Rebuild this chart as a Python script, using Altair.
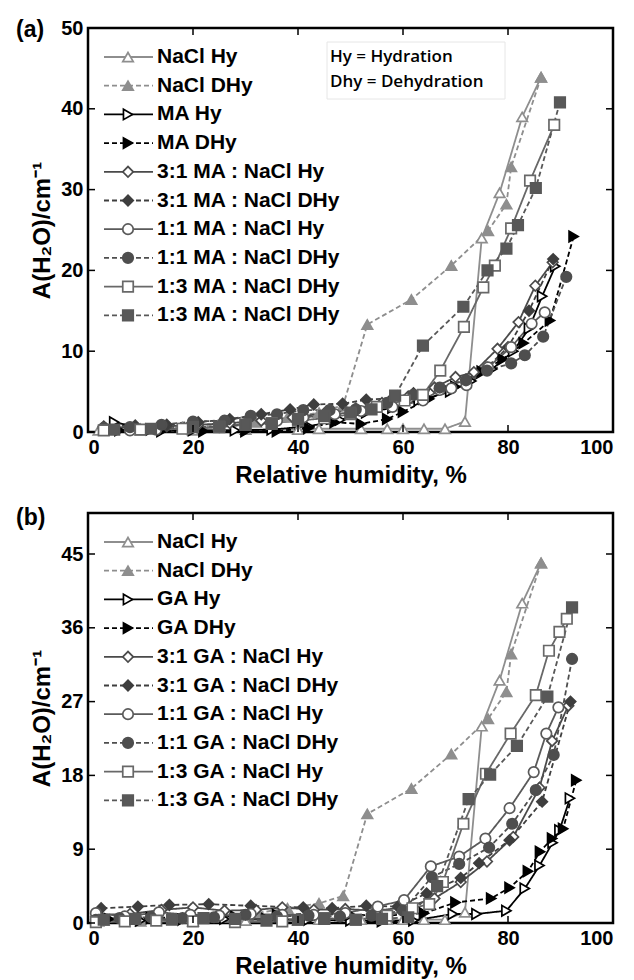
import altair as alt
import pandas as pd

FONT = "Liberation Sans"

# ---------------- tick values ----------------
RH_TICKS = [0, 20, 40, 60, 80, 100]
A_TICKS_A = [0, 10, 20, 30, 40, 50]
A_TICKS_B = [0, 9, 18, 27, 36, 45]

# ---------------- NaCl (same in both panels) ----------------
nacl_hy_rh = [2, 10, 20, 30, 40, 44, 52, 57, 60, 64, 68, 71.8, 75, 78.4, 82.7, 86.3]
nacl_hy_a = [0.2, 0.2, 0.2, 0.3, 0.3, 0.4, 0.4, 0.4, 0.4, 0.4, 0.4, 1.3, 24.0, 29.6, 39.0, 43.9]
nacl_dhy_rh = [86.3, 80.6, 79.7, 76.2, 69.2, 61.6, 53.2, 48.6, 44, 38, 32, 25, 18, 10, 3]
nacl_dhy_a = [43.9, 32.8, 28.2, 24.9, 20.6, 16.4, 13.3, 3.3, 2.4, 1.8, 1.2, 0.8, 0.6, 0.4, 0.3]

# ---------------- panel (a): MA ----------------
ma_hy_rh = [5, 12, 20, 28, 35, 42, 48, 53, 58, 63, 69, 73, 77, 81, 84, 86.5, 89]
ma_hy_a = [1.2, 0.3, 0.2, 0.2, 0.3, 0.7, 1.5, 2.4, 3.0, 3.9, 5.0, 6.3, 7.8, 10.0, 12.8, 16.8, 20.5]
ma_dhy_rh = [92.5, 88, 83, 79, 75, 70, 65, 60, 57, 52, 47, 42, 36, 30, 22, 14, 6]
ma_dhy_a = [24.2, 13.8, 11.0, 9.0, 7.5, 5.6, 4.1, 2.5, 1.6, 1.0, 1.2, 0.5, 0.1, 0.1, 0.1, 0.1, 0.2]
ma31_hy_rh = [3, 9, 15, 21, 27, 33, 39, 45, 51, 56, 61, 66, 70, 73.5, 78, 82, 85.2, 88.5]
ma31_hy_a = [0.5, 0.6, 0.7, 0.9, 1.1, 1.4, 1.8, 2.3, 2.9, 3.6, 4.4, 5.5, 6.8, 7.4, 10.3, 13.6, 18.1, 21.0]
ma31_dhy_rh = [88.6, 84, 80, 76, 72, 67, 62, 58, 53, 48.5, 43, 38.5, 33, 27, 21, 15, 9, 3]
ma31_dhy_a = [21.4, 15.0, 10.5, 8.0, 6.5, 5.4, 4.8, 4.2, 4.0, 3.5, 3.4, 2.8, 2.2, 1.6, 1.2, 0.9, 0.8, 0.7]
ma11_hy_rh = [3, 8, 13, 19, 25, 30, 36, 41, 47, 52, 58, 63.8, 67, 69.2, 72.1, 76.2, 80.6, 84.5, 87]
ma11_hy_a = [0.3, 0.2, 0.3, 0.4, 0.6, 1.0, 1.4, 1.8, 2.2, 2.6, 3.1, 3.9, 5.2, 5.4, 5.8, 8.0, 10.5, 13.4, 14.8]
ma11_dhy_rh = [91.1, 86.7, 83.2, 80.6, 76, 72, 67, 62, 57, 51, 46, 41, 36, 31, 26, 20, 14, 8, 3]
ma11_dhy_a = [19.2, 11.8, 9.5, 8.5, 7.6, 6.4, 5.5, 4.6, 3.6, 2.8, 2.7, 2.7, 2.2, 2.0, 1.4, 1.3, 0.9, 0.6, 0.5]
ma13_hy_rh = [3, 10, 18, 25, 30, 35, 40, 45, 50, 55, 60.3, 63.8, 67.1, 71.6, 75.3, 77.5, 80.6, 84.2, 88.8]
ma13_hy_a = [0.2, 0.3, 0.4, 0.6, 0.9, 1.1, 1.4, 1.7, 2.2, 3.1, 3.9, 4.6, 7.6, 13.0, 17.9, 20.6, 25.2, 31.1, 38.0]
ma13_dhy_rh = [89.9, 85.3, 81.9, 79.7, 76.1, 71.5, 63.8, 58.5, 54, 50, 45, 40, 35, 30, 25, 20, 12, 5]
ma13_dhy_a = [40.8, 30.2, 25.6, 22.7, 20.0, 15.5, 10.7, 4.5, 2.8, 2.4, 2.0, 1.6, 1.0, 0.9, 0.7, 0.6, 0.4, 0.3]

# ---------------- panel (b): GA ----------------
ga_hy_rh = [2, 10, 18, 26, 34, 42, 50, 56, 62, 69.5, 74, 79.7, 83.2, 86, 88.5, 89.8, 91.8]
ga_hy_a = [0.2, 0.3, 0.4, 0.5, 0.5, 0.4, 0.3, 0.2, 0.3, 1.1, 1.1, 1.5, 4.2, 7.0, 9.8, 11.3, 15.2]
ga_dhy_rh = [93, 90.5, 88.4, 86.1, 83.8, 80.3, 76.8, 70, 64, 57, 50, 43, 36, 28, 20, 12, 4]
ga_dhy_a = [17.4, 11.5, 10.3, 8.7, 6.3, 4.3, 3.0, 2.5, 1.2, 0.9, 1.0, 1.1, 1.0, 0.8, 0.8, 0.6, 0.5]
ga31_hy_rh = [2, 8, 14, 20, 26, 32, 37, 43, 49, 55, 61, 66, 71, 76, 81, 86, 88.4, 91.5]
ga31_hy_a = [1.0, 1.1, 1.6, 1.9, 1.5, 1.6, 1.9, 1.6, 1.7, 1.5, 2.0, 3.0, 5.0, 7.5, 10.5, 16.5, 22.2, 26.5]
ga31_dhy_rh = [91.9, 86.5, 80.3, 74.5, 71, 64.5, 59, 53, 46.5, 41, 31, 23, 15.5, 9.5, 2.5]
ga31_dhy_a = [27.0, 14.8, 10.1, 7.3, 5.5, 3.6, 2.0, 2.1, 1.8, 1.9, 2.1, 2.3, 2.2, 2.0, 1.8]
ga11_hy_rh = [1.5, 7, 13.5, 19.5, 25, 31, 37, 43, 49, 55.2, 60.2, 65.3, 70.7, 75.7, 80.3, 84.9, 87.3, 89.6]
ga11_hy_a = [1.2, 0.8, 1.3, 1.0, 0.9, 1.1, 1.0, 1.0, 1.2, 2.0, 2.8, 6.9, 8.1, 10.3, 14.0, 18.4, 23.1, 26.3]
ga11_dhy_rh = [92.2, 88.7, 85.3, 80.8, 76.4, 70.7, 65.5, 60, 54, 48, 42, 36, 30, 24, 18, 12, 6, 1.5]
ga11_dhy_a = [32.2, 20.5, 16.2, 12.1, 9.2, 7.2, 5.6, 1.5, 0.9, 0.8, 0.9, 0.8, 1.0, 0.7, 0.6, 0.7, 0.6, 0.4]
ga13_hy_rh = [1.5, 7, 13, 20, 28, 37, 45, 51, 57, 61.8, 65, 67.6, 71.5, 75.8, 80.5, 85.3, 87.8, 89.8, 91.2]
ga13_hy_a = [0.1, 0.2, 0.3, 0.2, 0.1, 0.2, 0.6, 0.4, 0.9, 1.8, 2.3, 5.0, 12.1, 18.2, 23.1, 27.8, 33.2, 35.5, 37.1]
ga13_dhy_rh = [92.2, 87.5, 81.7, 76.6, 72.5, 66.5, 61, 56, 51, 45, 40, 34, 28, 22, 16, 9, 3]
ga13_dhy_a = [38.5, 27.6, 21.6, 18.1, 15.1, 4.5, 0.7, 0.5, 0.4, 0.5, 0.4, 0.3, 0.5, 0.6, 0.4, 0.5, 0.4]

# ---------------- legend labels ----------------
labels_a = ["NaCl Hy", "NaCl DHy", "MA Hy", "MA DHy", "3:1 MA : NaCl Hy", "3:1 MA : NaCl DHy",
            "1:1 MA : NaCl Hy", "1:1 MA : NaCl DHy", "1:3 MA : NaCl DHy", "1:3 MA : NaCl DHy"]
labels_b = ["NaCl Hy", "NaCl DHy", "GA Hy", "GA DHy", "3:1 GA : NaCl Hy", "3:1 GA : NaCl DHy",
            "1:1 GA : NaCl Hy", "1:1 GA : NaCl DHy", "1:3 GA : NaCl Hy", "1:3 GA : NaCl DHy"]
note_lines = ["Hy = Hydration", "Dhy = Dehydration"]

# ---------------- styles ----------------
KEYS = ["s0", "s1", "s2", "s3", "s4", "s5", "s6", "s7", "s8", "s9"]
COLORS = ["#8e8e8e", "#8e8e8e", "#000000", "#000000", "#4a4a4a", "#3e3e3e",
          "#5a5a5a", "#4e4e4e", "#686868", "#585858"]
DASHES = [[1, 0], [5, 3]] * 5
SHAPES = ["triangle-up", "triangle-up", "triangle-right", "triangle-right", "diamond", "diamond",
          "circle", "circle", "square", "square"]
FILLS = ["white" if i % 2 == 0 else COLORS[i] for i in range(10)]

W = 525
MSIZE = 110


def build_df(pairs):
    rows = []
    for k, (xs, ys) in zip(KEYS, pairs):
        for i, (x, y) in enumerate(zip(xs, ys)):
            rows.append({"key": k, "rh": x, "a": y, "i": i})
    return pd.DataFrame(rows)


def panel(pairs, labels, yticks, H, tag, note):
    df = build_df(pairs)
    xsc = alt.Scale(domain=[0, 100], nice=False, zero=False)
    ysc = alt.Scale(domain=[0, 50], nice=False, zero=False)
    color = alt.Color("key:N", scale=alt.Scale(domain=KEYS, range=COLORS), legend=None)
    stroke = alt.Stroke("key:N", scale=alt.Scale(domain=KEYS, range=COLORS), legend=None)
    fill = alt.Fill("key:N", scale=alt.Scale(domain=KEYS, range=FILLS), legend=None)
    dash = alt.StrokeDash("key:N", scale=alt.Scale(domain=KEYS, range=DASHES), legend=None)
    shape = alt.Shape("key:N", scale=alt.Scale(domain=KEYS, range=SHAPES), legend=None)

    x_enc = alt.X("rh:Q", scale=xsc, title="Relative humidity, %",
                  axis=alt.Axis(values=RH_TICKS, format="d"))
    y_enc = alt.Y("a:Q", scale=ysc, title="A(H₂O)/cm⁻¹",
                  axis=alt.Axis(values=yticks, format="d"))

    lines = alt.Chart(df).mark_line(strokeWidth=1.8).encode(
        x=x_enc, y=y_enc, color=color, strokeDash=dash, order=alt.Order("i:Q"))
    pts = alt.Chart(df).mark_point(filled=True, size=MSIZE, strokeWidth=1.7, opacity=1).encode(
        x=alt.X("rh:Q", scale=xsc), y=alt.Y("a:Q", scale=ysc),
        stroke=stroke, fill=fill, shape=shape)

    tx = pd.DataFrame({"t": RH_TICKS})
    ty = pd.DataFrame({"t": yticks})
    tick_style = dict(color="black", strokeWidth=1.5)
    xt_b = alt.Chart(tx).mark_rule(**tick_style).encode(
        x=alt.X("t:Q", scale=xsc), y=alt.value(H), y2=alt.value(H - 7))
    xt_t = alt.Chart(tx).mark_rule(**tick_style).encode(
        x=alt.X("t:Q", scale=xsc), y=alt.value(0), y2=alt.value(7))
    yt_l = alt.Chart(ty).mark_rule(**tick_style).encode(
        y=alt.Y("t:Q", scale=ysc), x=alt.value(0), x2=alt.value(7))
    yt_r = alt.Chart(ty).mark_rule(**tick_style).encode(
        y=alt.Y("t:Q", scale=ysc), x=alt.value(W), x2=alt.value(W - 7))

    data_layer = alt.layer(lines, pts, xt_b, xt_t, yt_l, yt_r)

    leg = pd.DataFrame({"key": KEYS, "label": labels, "idx": list(range(10))})
    lsc = alt.Scale(domain=[0, 9], range=[29, 29 + 28.7 * 9], nice=False, zero=False)
    ly = alt.Y("idx:Q", scale=lsc, axis=None)
    leg_rule = alt.Chart(leg).mark_rule(strokeWidth=1.8).encode(
        x=alt.value(16), x2=alt.value(65), y=ly, color=color, strokeDash=dash)
    leg_pts = alt.Chart(leg).mark_point(filled=True, size=MSIZE, strokeWidth=1.7, opacity=1).encode(
        x=alt.value(40), y=ly, stroke=stroke, fill=fill, shape=shape)
    leg_txt = alt.Chart(leg).mark_text(align="left", baseline="middle", font=FONT,
                                       fontWeight="bold", fontSize=21, color="black").encode(
        x=alt.value(69), y=ly, text="label:N")
    leg_layer = alt.layer(leg_rule, leg_pts, leg_txt)

    tag_txt = alt.Chart(pd.DataFrame({"t": [tag]})).mark_text(
        align="left", baseline="middle", font=FONT, fontWeight="bold", fontSize=23,
        color="black").encode(text="t:N", x=alt.value(-72), y=alt.value(2 if note else 5))

    layers = [data_layer, leg_layer, tag_txt]
    if note:
        box = alt.Chart(pd.DataFrame({"t": [0]})).mark_rect(
            fill="white", stroke="#e6e6e6", strokeWidth=1).encode(
            x=alt.value(239), x2=alt.value(417), y=alt.value(14), y2=alt.value(71))
        n1 = alt.Chart(pd.DataFrame({"t": [note_lines[0]]})).mark_text(
            align="left", baseline="middle", font="Open Sans", fontWeight=600, fontSize=17,
            color="black").encode(text="t:N", x=alt.value(242), y=alt.value(29))
        n2 = alt.Chart(pd.DataFrame({"t": [note_lines[1]]})).mark_text(
            align="left", baseline="middle", font="Open Sans", fontWeight=600, fontSize=17,
            color="black").encode(text="t:N", x=alt.value(242), y=alt.value(54))
        layers += [box, n1, n2]

    return alt.layer(*layers).resolve_scale(y="independent").properties(width=W, height=H)


pairs_a = [(nacl_hy_rh, nacl_hy_a), (nacl_dhy_rh, nacl_dhy_a), (ma_hy_rh, ma_hy_a), (ma_dhy_rh, ma_dhy_a),
           (ma31_hy_rh, ma31_hy_a), (ma31_dhy_rh, ma31_dhy_a), (ma11_hy_rh, ma11_hy_a),
           (ma11_dhy_rh, ma11_dhy_a), (ma13_hy_rh, ma13_hy_a), (ma13_dhy_rh, ma13_dhy_a)]
pairs_b = [(nacl_hy_rh, nacl_hy_a), (nacl_dhy_rh, nacl_dhy_a), (ga_hy_rh, ga_hy_a), (ga_dhy_rh, ga_dhy_a),
           (ga31_hy_rh, ga31_hy_a), (ga31_dhy_rh, ga31_dhy_a), (ga11_hy_rh, ga11_hy_a),
           (ga11_dhy_rh, ga11_dhy_a), (ga13_hy_rh, ga13_hy_a), (ga13_dhy_rh, ga13_dhy_a)]

pa = panel(pairs_a, labels_a, A_TICKS_A, 404, "(a)", True)
pb = panel(pairs_b, labels_b, A_TICKS_B, 410, "(b)", False)

chart = alt.vconcat(pa, pb, spacing=16).properties(
    padding={"left": 14, "top": 16, "right": 4, "bottom": 2}, background="white"
).configure_view(stroke="black", strokeWidth=2.5).configure_axis(
    grid=False, ticks=False, tickSize=0, domain=False,
    labelFont=FONT, labelFontWeight="bold", labelFontSize=20, labelColor="black", labelPadding=5,
    titleFont=FONT, titleFontWeight="bold", titleFontSize=24, titleColor="black", titlePadding=6,
)

chart.save("out.html", embed_options={"renderer": "svg", "actions": False})
